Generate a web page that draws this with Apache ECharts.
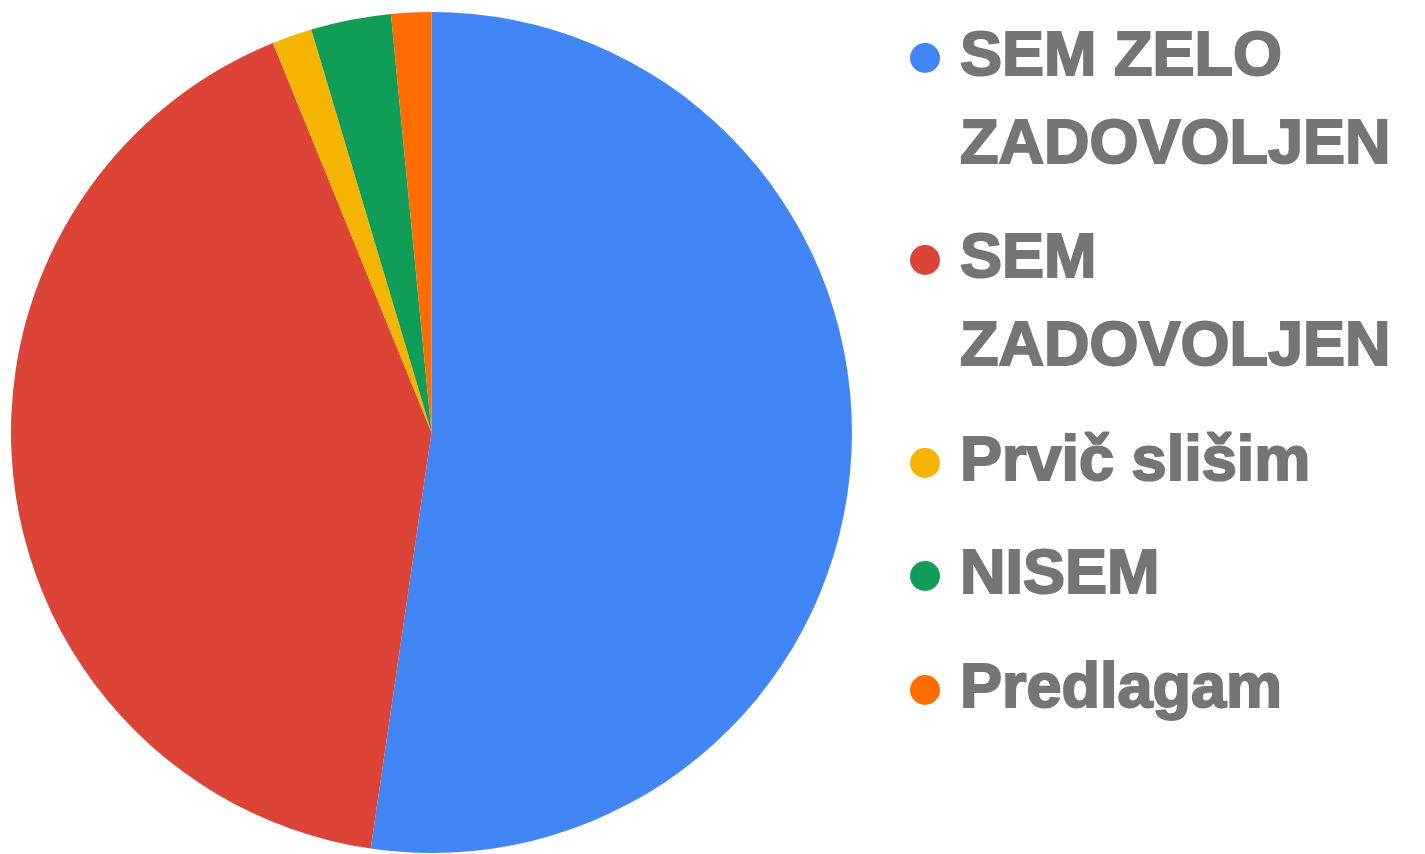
<!DOCTYPE html>
<html>
<head>
<meta charset="utf-8">
<script src="https://cdn.jsdelivr.net/npm/echarts@6/dist/echarts.min.js"></script>
<style>
html,body{margin:0;padding:0;background:#fff;}
#chart{width:1425px;height:854px;}
</style>
</head>
<body>
<div id="chart"></div>
<script>
const categories = ['SEM ZELO ZADOVOLJEN', 'SEM ZADOVOLJEN', 'Prvič slišim', 'NISEM', 'Predlagam'];
const labelLines = [['SEM ZELO', 'ZADOVOLJEN'], ['SEM', 'ZADOVOLJEN'], ['Prvič slišim'], ['NISEM'], ['Predlagam']];
const values = [34, 27, 1, 2, 1];
const colors = ['#4285F4', '#DB4437', '#F4B400', '#0F9D58', '#FF6D00'];

const legendIconCenters = [58, 260, 463, 576, 690];
const LINE_H = 88;

const legends = categories.map(function (name, i) {
  const lines = labelLines[i];
  const two = lines.length > 1;
  const halfBox = two ? (LINE_H * 3) / 2 : LINE_H / 2;
  return {
    data: [{ name: name, icon: 'circle' }],
    orient: 'vertical',
    left: 910,
    top: legendIconCenters[i] - halfBox,
    padding: 0,
    itemWidth: 60,
    itemHeight: 30,
    itemGap: 0,
    selectedMode: false,
    formatter: function () { return two ? '\n' + lines.join('\n') : lines[0]; },
    textStyle: {
      fontFamily: '"Liberation Sans", Arial, sans-serif',
      fontWeight: 'bold',
      fontSize: 63,
      color: '#757575',
      textBorderColor: '#757575',
      textBorderWidth: 2,
      lineHeight: LINE_H
    }
  };
});

const chart = echarts.init(document.getElementById('chart'), null, { renderer: 'canvas' });
chart.setOption({
  animation: false,
  color: colors,
  legend: legends,
  series: [{
    type: 'pie',
    center: [431.5, 432.5],
    radius: 420.5,
    startAngle: 90,
    clockwise: true,
    label: { show: false },
    labelLine: { show: false },
    itemStyle: { borderWidth: 0 },
    emphasis: { disabled: true },
    data: categories.map(function (c, i) { return { name: c, value: values[i] }; })
  }]
});
</script>
</body>
</html>
